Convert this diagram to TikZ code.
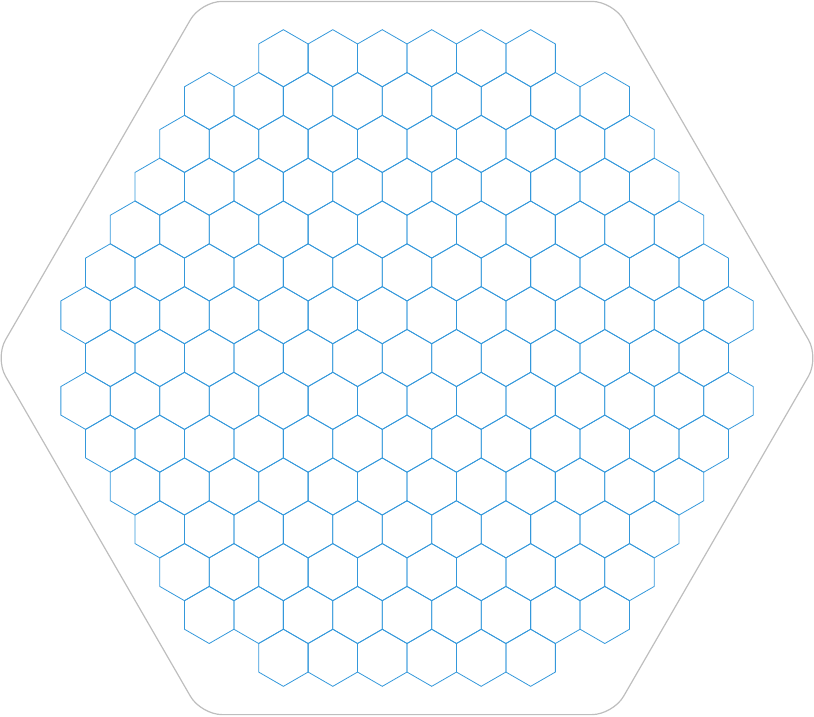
\documentclass[tikz,border=0pt]{standalone}
\definecolor{hexblue}{RGB}{52,152,219}
\definecolor{framegray}{RGB}{190,190,190}
\begin{document}
\begin{tikzpicture}[x=1pt,y=-1pt,
  frame/.style={draw=framegray, line width=1.2pt, rounded corners=21pt},
  cell/.style={draw=hexblue, line width=0.8pt, line join=miter}]
\useasboundingbox (0,0) rectangle (814,716);
% outer rounded hexagon
\draw[frame] (407,1.4) -- (613,1.4) -- (819,358) -- (613,714.6) -- (201,714.6) -- (-5,358) -- (201,1.4) -- cycle;
% honeycomb cells
\def\hr{28.55}
\def\hw{24.725}
\foreach \k/\n in {-7/6,-6/9,-5/10,-4/11,-3/12,-2/13,-1/14,0/13,1/14,2/13,3/12,4/11,5/10,6/9,7/6} {
  \pgfmathsetmacro\cy{358+\k*42.825}
  \foreach \i in {1,...,\n} {
    \pgfmathsetmacro\cx{407+(\i-(\n+1)/2)*49.45}
    \draw[cell] (\cx,\cy-\hr) -- (\cx+\hw,\cy-\hr/2) -- (\cx+\hw,\cy+\hr/2) -- (\cx,\cy+\hr) -- (\cx-\hw,\cy+\hr/2) -- (\cx-\hw,\cy-\hr/2) -- cycle;
  }
}
\end{tikzpicture}
\end{document}
